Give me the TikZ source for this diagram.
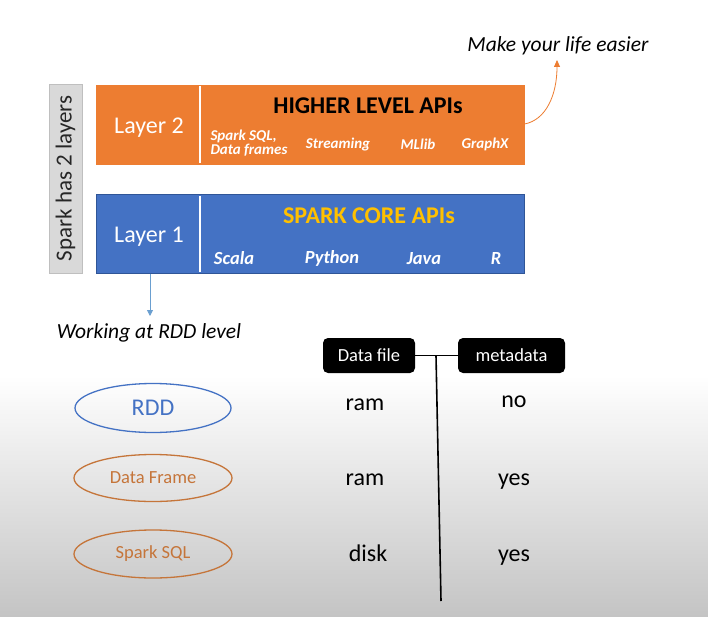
\documentclass[tikz,border=0pt]{standalone}
\usepackage{fontspec}
\setmainfont{Carlito}
\usetikzlibrary{arrows.meta,shapes.geometric}
\definecolor{sorange}{HTML}{ED7D31}
\definecolor{sblue}{HTML}{4472C4}
\definecolor{sblueedge}{HTML}{2F5597}
\definecolor{sgold}{HTML}{FFC000}
\definecolor{sgrayfill}{HTML}{D9D9D9}
\definecolor{sgrayedge}{HTML}{BFBFBF}
\definecolor{sarrowblue}{HTML}{6A9FD0}
\definecolor{sbottom}{HTML}{C4C4C4}
\definecolor{sdfrow}{HTML}{C5753A}
\tikzset{
  layerbox/.style={draw, minimum width=428pt, minimum height=79pt, inner sep=0pt},
  apititle/.style={font=\fontsize{24}{26}\selectfont\bfseries},
  apiitem/.style={font=\fontsize{15}{15}\selectfont\bfseries\itshape, text=white, align=left},
  langitem/.style={font=\fontsize{18.5}{20}\selectfont\bfseries\itshape, text=white},
  layerlabel/.style={font=\fontsize{24}{26}\selectfont, text=white},
  tagbox/.style={fill=black, rounded corners=5pt, text=white, minimum width=92pt, minimum height=35pt, font=\fontsize{18.5}{20}\selectfont, inner sep=0pt},
  kind/.style={ellipse, draw, line width=1.3pt, minimum width=156pt, minimum height=49pt, inner sep=0pt},
  cell/.style={font=\fontsize{24}{26}\selectfont, text height=13pt, text depth=5pt, inner sep=0pt},
  note/.style={font=\fontsize{21.5}{24}\selectfont\itshape}
}
\begin{document}
\begin{tikzpicture}[x=1pt,y=-1pt]
\useasboundingbox (0,0) rectangle (708,617);
\fill[white] (0,0) rectangle (708,376);
\shade[top color=white, bottom color=sbottom] (0,375) rectangle (708,617);

% side label
\node[draw=sgrayedge, fill=sgrayfill, minimum width=33pt, minimum height=189pt, inner sep=0pt] (side) at (65.5,178.5) {};
\node[rotate=90, font=\fontsize{23}{25}\selectfont, text=black!85] (sidetext) at (side.center) {Spark has 2 layers};

% layer 2
\node[layerbox, draw=sorange, fill=sorange] (l2) at (310,124.5) {};
\draw[white, line width=1.5pt] (200,86) -- (200,163);
\node[layerlabel] (l2lab) at (149,127.5) {Layer 2};
\node[apititle, text=black] (l2title) at (368,106) {HIGHER LEVEL APIs};
\node[apiitem] (sql) at (249,143) {Spark SQL,\\[-1pt]Data frames};
\node[apiitem] (stream) at (338,144.5) {Streaming};
\node[apiitem] (mllib) at (418,144.5) {MLlib};
\node[apiitem] (graphx) at (485,144.5) {GraphX};

% layer 1
\node[layerbox, draw=sblueedge, fill=sblue] (l1) at (310,234) {};
\draw[white, line width=1.5pt] (200,196) -- (200,272);
\node[layerlabel] (l1lab) at (149,236.5) {Layer 1};
\node[apititle, text=sgold] (l1title) at (369,216) {SPARK CORE APIs};
\node[langitem] (scala) at (234,258.5) {Scala};
\node[langitem] (python) at (332,258.5) {Python};
\node[langitem] (java) at (424,258.5) {Java};
\node[langitem] (rlang) at (496,258.5) {R};

% notes and arrows
\node[note] (rddnote) at (149,333) {Working at RDD level};
\coordinate (l1bot) at (150,273.5);
\coordinate (rddtip) at (150,316);
\draw[sarrowblue, thick, -{Triangle[length=6pt,width=6pt]}] (l1bot) -- (rddtip);

\node[note] (easy) at (558,45.5) {Make your life easier};
\coordinate (l2right) at (524.5,124);
\coordinate (easytip) at (557,60);
\draw[sorange, thick, -{Triangle[length=7pt,width=6pt]}] (l2right) .. controls (546,120) and (557,95) .. (easytip);

% table headers
\node[tagbox] (datafile) at (369,355.5) {Data file};
\node[tagbox, minimum width=107pt] (meta) at (511.5,355.5) {metadata};
\draw[black, line width=1.2pt] (datafile.east) -- (meta.east -| meta.west);
\coordinate (vtop) at (436,355.5);
\coordinate (vbot) at (441,601);
\draw[black, line width=1.6pt] (vtop) -- (vbot);

% kinds
\node[kind, draw=sblue, text=sblue, font=\fontsize{24}{26}\selectfont] (rdd) at (153,408) {RDD};
\node[kind, draw=sdfrow, text=sdfrow, font=\fontsize{18.5}{20}\selectfont, minimum width=158pt, minimum height=47pt] (df) at (153,478) {Data Frame};
\node[kind, draw=sdfrow, text=sdfrow, font=\fontsize{18.5}{20}\selectfont, minimum width=158pt, minimum height=48pt] (ssql) at (153,554) {Spark SQL};

% cells
\node[cell] (c11) at (365,406) {ram};
\node[cell] (c12) at (514,403) {no};
\node[cell] (c21) at (365,481) {ram};
\node[cell] (c22) at (514,481) {yes};
\node[cell] (c31) at (368,557) {disk};
\node[cell] (c32) at (514,557) {yes};
\end{tikzpicture}
\end{document}
